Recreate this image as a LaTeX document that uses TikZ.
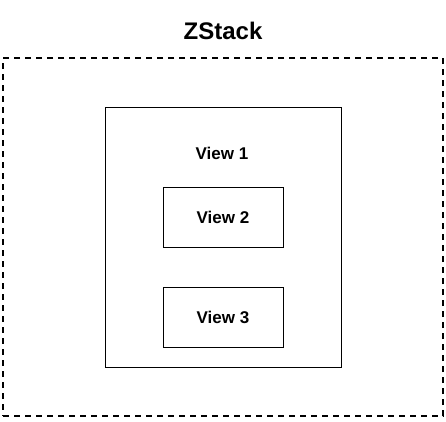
\documentclass[tikz,border=0pt]{standalone}
\usepackage{fontspec}
\setmainfont{Liberation Sans}
\begin{document}
\begin{tikzpicture}[x=1pt,y=-1pt,
		boite/.style={rectangle,draw,line width=0.9pt,inner sep=0pt},
		texte/.style={font=\bfseries\fontsize{17}{20}\selectfont}]
		\useasboundingbox (0,0) rectangle (446,421);
		% Définition des noeuds
		\node[font=\bfseries\fontsize{24}{28}\selectfont] (titre) at (223,31) {ZStack};
		\node[boite,dash pattern=on 6pt off 5pt,line width=1.3pt,minimum width=440pt,minimum height=358pt] (zstack) at (223,237) {};
		\node[boite,minimum width=236pt,minimum height=260pt] (vue1) at (223,237) {};
		\node[texte] (lab1) at (222,153) {View 1};
		\node[boite,texte,minimum width=120pt,minimum height=60pt] (vue2) at (223,217) {View 2};
		\node[boite,texte,minimum width=120pt,minimum height=60pt] (vue3) at (223,317) {View 3};
	\end{tikzpicture}
\end{document}
